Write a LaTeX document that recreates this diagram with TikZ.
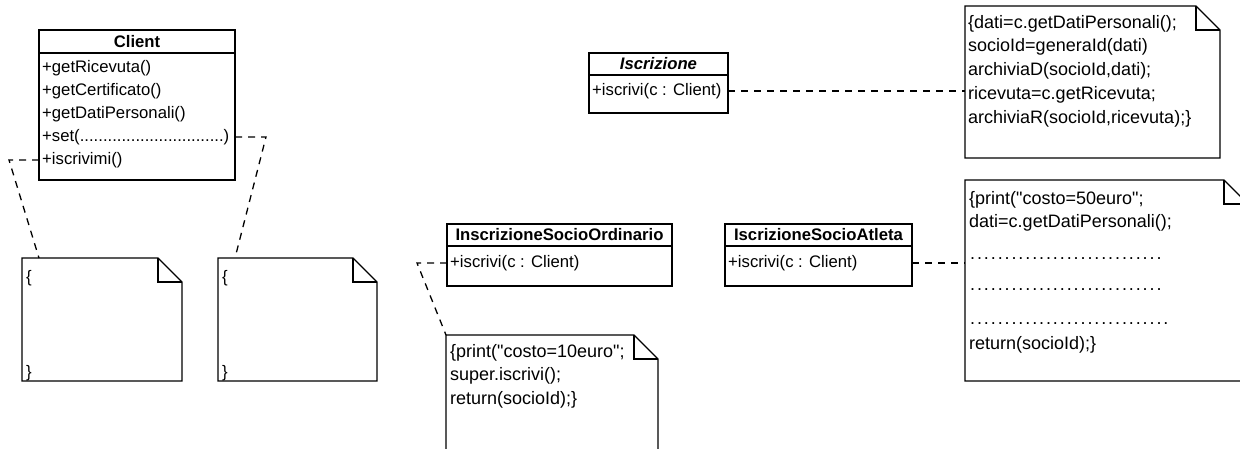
\documentclass[tikz,border=0pt]{standalone}
\usepackage{fontspec}
\setmainfont{Liberation Sans}[Ligatures=TeXOff]
\usetikzlibrary{positioning}
\tikzset{
  box/.style={draw, line width=1.4pt, inner sep=0pt, outer sep=0pt},
  umlname/.style={font=\fontsize{16.7}{22}\selectfont\bfseries},
  umlrow/.style={anchor=west, inner sep=0pt, font=\fontsize{16.7}{22}\selectfont},
  notebox/.style={anchor=north west, inner sep=0pt, outer sep=0pt},
  notetext/.style={anchor=north west, inner sep=0pt, align=left, font=\fontsize{18}{23.7}\selectfont},
  link/.style={line width=1.3pt, dash pattern=on 7pt off 6pt}
}
\newcommand{\foldsize}{24pt}
\newcommand{\notepaper}[1]{%
  \draw[line width=1.4pt] (#1.north west) -- ([xshift=-\foldsize]#1.north east) -- ([yshift=-\foldsize]#1.north east) -- (#1.south east) -- (#1.south west) -- cycle;
  \draw[line width=1.4pt] ([xshift=-\foldsize]#1.north east) |- ([yshift=-\foldsize]#1.north east);}
\newcommand{\dotrow}[1]{\makebox[#1][l]{\leaders\hbox to 6.9pt{\hss.\hss}\hfill}}

\begin{document}
\begin{tikzpicture}[x=1pt,y=-1pt]
        \fill[white] (0,0) rectangle (1240,448);
        \useasboundingbox (0,0) rectangle (1240,448);
        \clip (0,0) rectangle (1240,448);

        \node[box, umlname, minimum width=196pt, minimum height=23pt] (clientH) at (137,41.5) {Client};
        \node[box, minimum width=196pt, minimum height=127pt, below=0pt of clientH] (clientB) {};
        \node[umlrow] (cRic) at (42,68) {+getRicevuta()};
        \node[umlrow] (cCert) at (42,91) {+getCertificato()};
        \node[umlrow] (cDati) at (42,114) {+getDatiPersonali()};
        \node[umlrow] (cSet) at (42,137) {+set(...............................)};
        \node[umlrow] (cIscr) at (42,160) {+iscrivimi()};

        \node[box, font=\fontsize{16.7}{22}\selectfont\bfseries\itshape, minimum width=139pt, minimum height=22pt] (iscrH) at (658.5,64) {Iscrizione};
        \node[box, minimum width=139pt, minimum height=38pt, below=0pt of iscrH] (iscrB) {};
        \node[umlrow] (iscrOp) at (592,91) {+iscrivi(c : Client)};

        \node[box, umlname, minimum width=225pt, minimum height=22pt] (ordH) at (559.5,235) {InscrizioneSocioOrdinario};
        \node[box, minimum width=225pt, minimum height=40pt, below=0pt of ordH] (ordB) {};
        \node[umlrow] (ordOp) at (450,263) {+iscrivi(c : Client)};

        \node[box, umlname, minimum width=187pt, minimum height=22pt] (atlH) at (818.5,235) {IscrizioneSocioAtleta};
        \node[box, minimum width=187pt, minimum height=40pt, below=0pt of atlH] (atlB) {};
        \node[umlrow] (atlOp) at (728,263) {+iscrivi(c : Client)};

        \node[notebox, minimum width=160pt, minimum height=123pt] (noteClIscr) at (22,258) {};
        \notepaper{noteClIscr}
        \node[umlrow] (noteClIscrOpen) at (26,278) {\{};
        \node[umlrow] (noteClIscrClose) at (26,373) {\}};

        \node[notebox, minimum width=159pt, minimum height=123pt] (noteClSet) at (218,258) {};
        \notepaper{noteClSet}
        \node[umlrow] (noteClSetOpen) at (222,278) {\{};
        \node[umlrow] (noteClSetClose) at (222,373) {\}};

        \node[notebox, minimum width=255pt, minimum height=152pt] (noteBase) at (965,6) {};
        \notepaper{noteBase}
        \node[notetext] (noteBaseTxt) at (968,15) {\{dati=c.getDatiPersonali();\\ socioId=generaId(dati)\\ archiviaD(socioId,dati);\\ ricevuta=c.getRicevuta;\\ archiviaR(socioId,ricevuta);\}};

        \node[notebox, minimum width=212pt, minimum height=130pt] (noteOrd) at (446,335) {};
        \notepaper{noteOrd}
        \node[notetext] (noteOrdTxt) at (450,344) {\{print("costo=10euro";\\ super.iscrivi();\\ return(socioId);\}};

        \node[notebox, minimum width=283pt, minimum height=201pt] (noteAtl) at (965,180) {};
        \notepaper{noteAtl}
        \node[notetext] (noteAtlTxt) at (969,191) {\{print("costo=50euro";\\ dati=c.getDatiPersonali();\\[8pt] \dotrow{196pt}\\[7pt] \dotrow{196pt}\\[10pt] \dotrow{203pt}\\[2pt] return(socioId);\}};

        \coordinate (clIscrBend) at (9,160);
        \coordinate (clSetBend) at (266,137);
        \coordinate (ordBend) at (417,263);
        \draw[link] (cIscr -| clientB.west) -- (clIscrBend) -- ([xshift=17pt]noteClIscr.north west);
        \draw[link] (cSet -| clientB.east) -- (clSetBend) -- ([xshift=17pt]noteClSet.north west);
        \draw[link] (iscrOp -| iscrB.east) -- (iscrOp -| noteBase.west);
        \draw[link] (ordOp -| ordB.west) -- (ordBend) -- (noteOrd.north west);
        \draw[link] (atlOp -| atlB.east) -- (atlOp -| noteAtl.west);
    \end{tikzpicture}
\end{document}
